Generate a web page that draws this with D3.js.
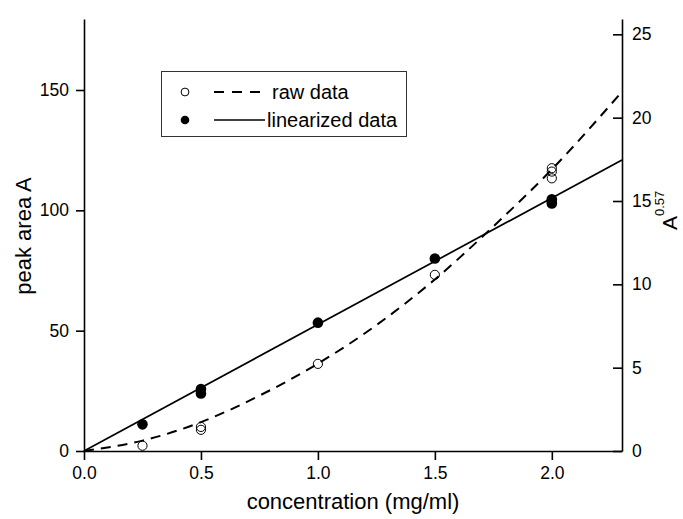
<!DOCTYPE html>
<html>
<head>
<meta charset="utf-8">
<script src="https://cdn.jsdelivr.net/npm/d3@7/dist/d3.min.js"></script>
<style>
  html, body { margin: 0; padding: 0; background: #fff; }
  svg { display: block; font-family: "Liberation Sans", Arial, sans-serif; }
  .axis path, .axis line { stroke: #000; stroke-width: 1.6px; }
  .axis text { font-size: 17.5px; fill: #000; font-family: "Liberation Sans", Arial, sans-serif; }
</style>
</head>
<body>
<svg id="chart" width="683" height="519"></svg>
<script>
// Measured peak areas (left axis) at each concentration
const rawConc = [0.25, 0.5, 0.5, 1.0, 1.5, 2.0, 2.0, 2.0];
const rawArea = [2.2, 8.8, 10.0, 36.2, 73.2, 117.5, 116.1, 113.3];

// Linearized values A^0.57 (right axis)
const linConc = [0.25, 0.5, 0.5, 1.0, 1.5, 2.0, 2.0, 2.0];
const linValue = [1.6, 3.45, 3.72, 7.7, 11.55, 15.1, 15.0, 14.85];

// Fitted curves
const rawFitConc = [0, 0.25, 0.5, 0.75, 1.0, 1.25, 1.5, 1.75, 2.0, 2.3];
const rawFitArea = [0, 4.3, 12.0, 23.0, 36.3, 52.3, 71.3, 93.3, 117.0, 149.3];
const linFitConc = [0, 2.3];
const linFitValue = [0, 17.46];

// Axis ticks
const xTicks = [0, 0.5, 1.0, 1.5, 2.0];
const yLeftTicks = [0, 50, 100, 150];
const yRightTicks = [0, 5, 10, 15, 20, 25];

const legendLabels = ["raw data", "linearized data"];

const svg = d3.select("#chart");
const plotLeft = 84, plotRight = 622, plotTop = 19, plotBottom = 451;

const x = d3.scaleLinear().domain([0, 2.3]).range([plotLeft, plotRight]);
const yL = d3.scaleLinear().domain([0, 179.5]).range([plotBottom, plotTop]);
const yR = d3.scaleLinear().domain([0, 25.92]).range([plotBottom, plotTop]);

// Axes
svg.append("g").attr("class", "axis")
  .attr("transform", `translate(0,${plotBottom})`)
  .call(d3.axisBottom(x).tickValues(xTicks).tickFormat(d3.format(".1f"))
        .tickSize(9).tickSizeOuter(0).tickPadding(7));

svg.append("g").attr("class", "axis")
  .attr("transform", `translate(${plotLeft},0)`)
  .call(d3.axisLeft(yL).tickValues(yLeftTicks).tickFormat(d3.format("d"))
        .tickSize(8).tickSizeOuter(0).tickPadding(7));

svg.append("g").attr("class", "axis")
  .attr("transform", `translate(${plotRight},0)`)
  .call(d3.axisRight(yR).tickValues(yRightTicks).tickFormat(d3.format("d"))
        .tickSize(-9).tickSizeOuter(0).tickPadding(10));

// Axis titles
svg.append("text")
  .attr("x", (plotLeft + plotRight) / 2).attr("y", 509)
  .attr("text-anchor", "middle")
  .style("font-size", "22px")
  .text("concentration (mg/ml)");

svg.append("text")
  .attr("transform", `translate(31,${(plotTop + plotBottom) / 2 + 1}) rotate(-90)`)
  .attr("text-anchor", "middle")
  .style("font-size", "22px")
  .text("peak area A");

const rt = svg.append("text")
  .attr("transform", "translate(677,230) rotate(-90)")
  .attr("text-anchor", "start")
  .style("font-size", "21px");
rt.append("tspan").text("A");
rt.append("tspan").attr("dy", -13).style("font-size", "13px").text("0.57");

// Fit curves
const rawFit = rawFitConc.map((c, i) => [c, rawFitArea[i]]);
svg.append("path")
  .datum(rawFit)
  .attr("fill", "none").attr("stroke", "#000").attr("stroke-width", 2)
  .attr("stroke-dasharray", "10,7")
  .attr("d", d3.line().x(d => x(d[0])).y(d => yL(d[1])).curve(d3.curveMonotoneX));

const linFit = linFitConc.map((c, i) => [c, linFitValue[i]]);
svg.append("path")
  .datum(linFit)
  .attr("fill", "none").attr("stroke", "#000").attr("stroke-width", 1.7)
  .attr("d", d3.line().x(d => x(d[0])).y(d => yR(d[1])));

// Data points
svg.append("g").selectAll("circle")
  .data(rawConc.map((c, i) => [c, rawArea[i]]))
  .join("circle")
  .attr("cx", d => x(d[0])).attr("cy", d => yL(d[1]))
  .attr("r", 4.6)
  .attr("fill", "none").attr("stroke", "#000").attr("stroke-width", 1);

svg.append("g").selectAll("circle")
  .data(linConc.map((c, i) => [c, linValue[i]]))
  .join("circle")
  .attr("cx", d => x(d[0])).attr("cy", d => yR(d[1]))
  .attr("r", 5.3)
  .attr("fill", "#000");

// Legend
const lg = svg.append("g");
lg.append("rect")
  .attr("x", 161.5).attr("y", 71.5).attr("width", 245).attr("height", 65)
  .attr("fill", "#fff").attr("stroke", "#333").attr("stroke-width", 1);

lg.append("circle").attr("cx", 185).attr("cy", 92).attr("r", 3.9)
  .attr("fill", "none").attr("stroke", "#000").attr("stroke-width", 1);
lg.append("line").attr("x1", 214).attr("x2", 260).attr("y1", 92).attr("y2", 92)
  .attr("stroke", "#000").attr("stroke-width", 2).attr("stroke-dasharray", "10,8");
lg.append("text").attr("x", 272).attr("y", 98.5)
  .style("font-size", "20px").text(legendLabels[0]);

lg.append("circle").attr("cx", 185).attr("cy", 120).attr("r", 4.3)
  .attr("fill", "#000");
lg.append("line").attr("x1", 214).attr("x2", 265).attr("y1", 120).attr("y2", 120)
  .attr("stroke", "#000").attr("stroke-width", 1.7);
lg.append("text").attr("x", 267).attr("y", 126.5)
  .style("font-size", "20px").text(legendLabels[1]);
</script>
</body>
</html>
